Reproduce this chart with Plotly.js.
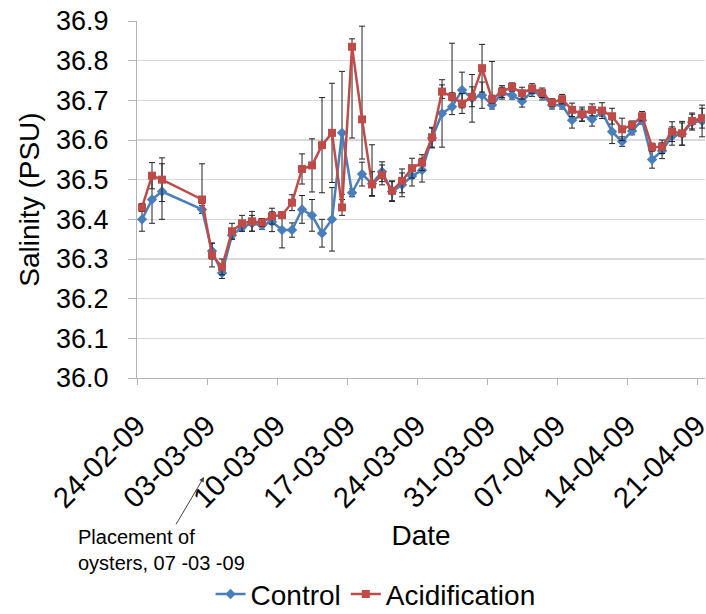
<!DOCTYPE html>
<html>
<head>
<meta charset="utf-8">
<script src="https://cdn.plot.ly/plotly-3.0.1.min.js"></script>
<style>
  html, body { margin: 0; padding: 0; background: #fff; }
  #chart { width: 706px; height: 614px; }
</style>
</head>
<body>
<div id="chart"></div>
<script>
const dates = [
  '2009-02-24', '2009-02-25', '2009-02-26',
  '2009-03-02', '2009-03-03', '2009-03-04', '2009-03-05', '2009-03-06', '2009-03-07', '2009-03-08', '2009-03-09', '2009-03-10', '2009-03-11',
  '2009-03-12', '2009-03-13', '2009-03-14', '2009-03-15', '2009-03-16', '2009-03-17', '2009-03-18', '2009-03-19', '2009-03-20', '2009-03-21',
  '2009-03-22', '2009-03-23', '2009-03-24', '2009-03-25', '2009-03-26', '2009-03-27', '2009-03-28', '2009-03-29', '2009-03-30', '2009-03-31',
  '2009-04-01', '2009-04-02', '2009-04-03', '2009-04-04', '2009-04-05', '2009-04-06', '2009-04-07', '2009-04-08', '2009-04-09', '2009-04-10',
  '2009-04-11', '2009-04-12', '2009-04-13', '2009-04-14', '2009-04-15', '2009-04-16', '2009-04-17', '2009-04-18', '2009-04-19', '2009-04-20', '2009-04-21'
];

const control = [
  36.40, 36.45, 36.47,
  36.425, 36.32, 36.265, 36.36, 36.38, 36.39, 36.385, 36.394, 36.373, 36.373,
  36.425, 36.41, 36.365, 36.40, 36.618, 36.467, 36.514, 36.49, 36.52, 36.47,
  36.487, 36.509, 36.524, 36.605, 36.667, 36.684, 36.726, 36.705, 36.713, 36.688,
  36.718, 36.713, 36.698, 36.722, 36.713, 36.688, 36.688, 36.65, 36.663, 36.652,
  36.67, 36.621, 36.596, 36.623, 36.65, 36.551, 36.573, 36.61, 36.615, 36.645, 36.648
];
const acidification = [
  36.43, 36.51, 36.50,
  36.45, 36.31, 36.28, 36.37, 36.39, 36.395, 36.392, 36.408, 36.411, 36.442,
  36.527, 36.536, 36.587, 36.618, 36.43, 36.835, 36.652, 36.488, 36.512, 36.472,
  36.497, 36.529, 36.543, 36.607, 36.722, 36.709, 36.692, 36.709, 36.781, 36.703,
  36.722, 36.734, 36.718, 36.730, 36.719, 36.694, 36.703, 36.676, 36.665, 36.676,
  36.674, 36.66, 36.627, 36.638, 36.66, 36.582, 36.583, 36.621, 36.617, 36.648, 36.655
];

// error bars (plus / minus)
const controlErrPlus = [
  0.03, 0.06, 0.07,
  0.01, 0.02, 0.014, 0.01, 0.01, 0.02, 0.01, 0.025, 0.045, 0.018,
  0.035, 0.04, 0.035, 0.08, 0.155, 0.01, 0.03, 0.03, 0.025, 0.025,
  0.03, 0.025, 0.03, 0.025, 0.085, 0.16, 0.045, 0.06, 0.033, 0.11,
  0.015, 0.01, 0.015, 0.012, 0.012, 0.01, 0.01, 0.02, 0.015, 0.017,
  0.01, 0.03, 0.012, 0.01, 0.01, 0.022, 0.02, 0.023, 0.028, 0.02, 0.04
];
const controlErrMinus = [
  0.03, 0.06, 0.07,
  0.01, 0.02, 0.014, 0.01, 0.01, 0.02, 0.01, 0.025, 0.045, 0.018,
  0.035, 0.04, 0.035, 0.08, 0.155, 0.01, 0.03, 0.03, 0.025, 0.025,
  0.03, 0.025, 0.03, 0.025, 0.085, 0.02, 0.045, 0.06, 0.033, 0.01,
  0.015, 0.01, 0.015, 0.012, 0.012, 0.01, 0.01, 0.02, 0.015, 0.017,
  0.01, 0.03, 0.012, 0.01, 0.01, 0.022, 0.02, 0.023, 0.028, 0.02, 0.04
];
const acidErrPlus = [
  0.01, 0.033, 0.055,
  0.09, 0.03, 0.02, 0.02, 0.02, 0.025, 0.01, 0.02, 0.008, 0.02,
  0.038, 0.067, 0.12, 0.125, 0.02, 0.02, 0.235, 0.10, 0.025, 0.025,
  0.03, 0.025, 0.02, 0.025, 0.017, 0.01, 0.025, 0.025, 0.06, 0.01,
  0.015, 0.01, 0.015, 0.012, 0.012, 0.01, 0.012, 0.017, 0.018, 0.015,
  0.02, 0.02, 0.028, 0.01, 0.012, 0.01, 0.017, 0.025, 0.03, 0.02, 0.025
];
const acidErrMinus = [
  0.01, 0.033, 0.055,
  0.01, 0.03, 0.02, 0.02, 0.02, 0.025, 0.01, 0.02, 0.008, 0.02,
  0.038, 0.067, 0.12, 0.125, 0.02, 0.23, 0.10, 0.03, 0.025, 0.025,
  0.03, 0.025, 0.02, 0.025, 0.017, 0.01, 0.025, 0.025, 0.06, 0.01,
  0.015, 0.01, 0.015, 0.012, 0.012, 0.01, 0.012, 0.017, 0.018, 0.015,
  0.02, 0.02, 0.028, 0.01, 0.012, 0.01, 0.017, 0.025, 0.03, 0.02, 0.025
];

const tickLabels = ['24-02-09', '03-03-09', '10-03-09', '17-03-09', '24-03-09', '31-03-09', '07-04-09', '14-04-09', '21-04-09'];

// excel puts each day between tick marks: ticks sit half a day before the points
const HALF_DAY = 12 * 3600 * 1000;
const tickVals = tickLabels.map(t => {
  const [d, m, y] = t.split('-').map(Number);
  return Date.UTC(2000 + y, m - 1, d) - HALF_DAY;
});

const FONT = 'Liberation Sans, Arial, sans-serif';
const GRID = '#d9d9d9';
const AXIS = '#b3b3b3';

function errBars(plus, minus) {
  return { type: 'data', symmetric: false, array: plus, arrayminus: minus, color: '#222', thickness: 1, width: 3 };
}

const traces = [
  {
    x: dates, y: control, name: 'Control', type: 'scatter', mode: 'lines+markers',
    line: { color: '#4A7EBB', width: 2.5 },
    marker: { symbol: 'diamond', size: 8, color: '#4A7EBB' },
    error_y: errBars(controlErrPlus, controlErrMinus),
  },
  {
    x: dates, y: acidification, name: 'Acidification', type: 'scatter', mode: 'lines+markers',
    line: { color: '#BE4B48', width: 2.5 },
    marker: { symbol: 'square', size: 8, color: '#BE4B48' },
    error_y: errBars(acidErrPlus, acidErrMinus),
  },
];

const layout = {
  width: 706, height: 614,
  paper_bgcolor: '#fff', plot_bgcolor: '#fff',
  font: { family: FONT, color: '#000', size: 26 },
  margin: { l: 137, r: 1, t: 21, b: 236, autoexpand: false },
  showlegend: true,
  legend: {
    orientation: 'h', xref: 'paper', x: 0.42, xanchor: 'center',
    yref: 'container', y: 0.032, yanchor: 'middle',
    font: { size: 28 }, itemwidth: 30, tracegroupgap: 0,
  },
  xaxis: {
    type: 'date', automargin: false,
    range: ['2009-02-23 12:00', '2009-04-21 07:00'],
    tickmode: 'array', tickvals: tickVals, ticktext: tickLabels,
    tickangle: -45, ticklabeloverflow: 'allow', ticklabelstandoff: 12,
    ticks: 'outside', ticklen: 6, tickcolor: AXIS,
    showline: true, linecolor: AXIS, linewidth: 1,
    showgrid: false, zeroline: false,
    tickfont: { size: 29 },
    title: { text: 'Date', font: { size: 28 }, standoff: 12 },
  },
  yaxis: {
    automargin: false,
    range: [36.0, 36.9], dtick: 0.1, tickformat: '.1f',
    ticks: 'outside', ticklen: 8, tickcolor: AXIS, ticklabelstandoff: 14,
    showline: true, linecolor: AXIS, linewidth: 1,
    gridcolor: GRID, gridwidth: 1.5, zeroline: false,
    tickfont: { size: 27 },
    title: { text: 'Salinity (PSU)', font: { size: 28 }, standoff: 8 },
  },
  annotations: [
    {
      xref: 'paper', yref: 'paper', x: 0.118, y: -0.277,
      text: 'Placement of<br>oysters, 07 -03 -09', align: 'left',
      font: { size: 20, color: '#000' },
      showarrow: true, arrowhead: 2, arrowsize: 1, arrowwidth: 1, arrowcolor: '#404040',
      ax: -43, ay: 73,
    },
  ],
};

Plotly.newPlot('chart', traces, layout, { displayModeBar: false, staticPlot: true });
</script>
</body>
</html>
